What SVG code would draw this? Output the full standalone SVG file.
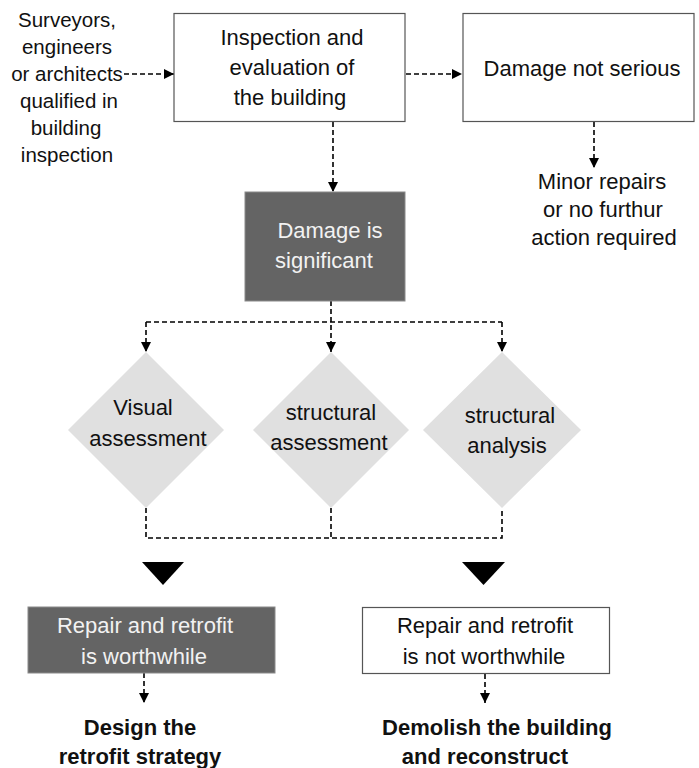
<svg xmlns="http://www.w3.org/2000/svg" width="699" height="768" viewBox="0 0 699 768">
<defs>
<marker id="ah" viewBox="0 0 10 10" refX="10" refY="5" markerWidth="10" markerHeight="10" markerUnits="userSpaceOnUse" orient="auto">
<path d="M0,0 L10,5 L0,10 z" fill="#000"/>
</marker>
<style>
text{font-family:"Liberation Sans",Arial,sans-serif;font-size:22px;fill:#111;text-anchor:middle}
.sm{font-size:20.5px}
.wt{fill:#f2f2f2}
.bd{font-weight:bold}
.box{fill:#fff;stroke:#555;stroke-width:1.2}
.dark{fill:#646464;stroke:#8a8a8a;stroke-width:1}
.dia{fill:#e0e0e0}
.c{fill:none;stroke:#000;stroke-width:1.6;stroke-dasharray:5,3}
</style>
</defs>
<rect width="699" height="768" fill="#fff"/>
<g id="connectors">
<path class="c" d="M124,74 H174" marker-end="url(#ah)"/>
<path class="c" d="M406,74 H462" marker-end="url(#ah)"/>
<path class="c" d="M594,122 V168" marker-end="url(#ah)"/>
<path class="c" d="M333,122 V192" marker-end="url(#ah)"/>
<path class="c" d="M331,301 V352" marker-end="url(#ah)"/>
<path class="c" d="M146,322 H502"/>
<path class="c" d="M146,322 V352" marker-end="url(#ah)"/>
<path class="c" d="M502,322 V352" marker-end="url(#ah)"/>
<path class="c" d="M146,508 V538 H502 V508"/>
<path class="c" d="M331,508 V538"/>
<path d="M142,562 H184 L163,585 z" fill="#000"/>
<path d="M462,562 H505 L483.5,585 z" fill="#000"/>
<path class="c" d="M144,673 V703" marker-end="url(#ah)"/>
<path class="c" d="M485,674 V703" marker-end="url(#ah)"/>
</g>
<g id="surveyors">
<text class="sm" x="67" y="27">Surveyors,</text>
<text class="sm" x="67" y="54">engineers</text>
<text class="sm" x="67" y="81">or architects</text>
<text class="sm" x="69" y="108">qualified in</text>
<text class="sm" x="66" y="135">building</text>
<text class="sm" x="67" y="162">inspection</text>
</g>
<g id="inspection">
<rect class="box" x="174" y="13.5" width="231" height="108"/>
<text x="292" y="45">Inspection and</text>
<text x="292" y="75">evaluation of</text>
<text x="290" y="105">the building</text>
</g>
<g id="not-serious">
<rect class="box" x="463" y="13.5" width="231" height="108"/>
<text x="582" y="76">Damage not serious</text>
</g>
<g id="minor">
<text x="602" y="189">Minor repairs</text>
<text x="603" y="217">or no furthur</text>
<text x="604" y="245">action required</text>
</g>
<g id="significant">
<rect class="dark" x="245" y="192" width="160" height="109"/>
<text class="wt" x="330" y="238">Damage is</text>
<text class="wt" x="324" y="268">significant</text>
</g>
<g id="visual">
<path class="dia" d="M146,352 L224,430 L146,508 L68,430 z"/>
<text x="143" y="415">Visual</text>
<text x="148" y="446">assessment</text>
</g>
<g id="structural-assessment">
<path class="dia" d="M331,352 L409,430 L331,508 L253,430 z"/>
<text x="331" y="420">structural</text>
<text x="329" y="450">assessment</text>
</g>
<g id="structural-analysis">
<path class="dia" d="M502,352 L581,430 L502,508 L423,430 z"/>
<text x="510" y="423">structural</text>
<text x="507" y="453">analysis</text>
</g>
<g id="worthwhile">
<rect class="dark" x="28" y="607" width="247" height="66"/>
<text class="wt" x="145" y="633">Repair and retrofit</text>
<text class="wt" x="144" y="664">is worthwhile</text>
</g>
<g id="not-worthwhile">
<rect class="box" x="362.5" y="607.5" width="247" height="66"/>
<text x="485" y="633">Repair and retrofit</text>
<text x="484" y="664">is not worthwhile</text>
</g>
<g id="design">
<text class="bd" x="140" y="735">Design the</text>
<text class="bd" x="140" y="764">retrofit strategy</text>
</g>
<g id="demolish">
<text class="bd" x="497" y="735">Demolish the building</text>
<text class="bd" x="485" y="764">and reconstruct</text>
</g>
</svg>
